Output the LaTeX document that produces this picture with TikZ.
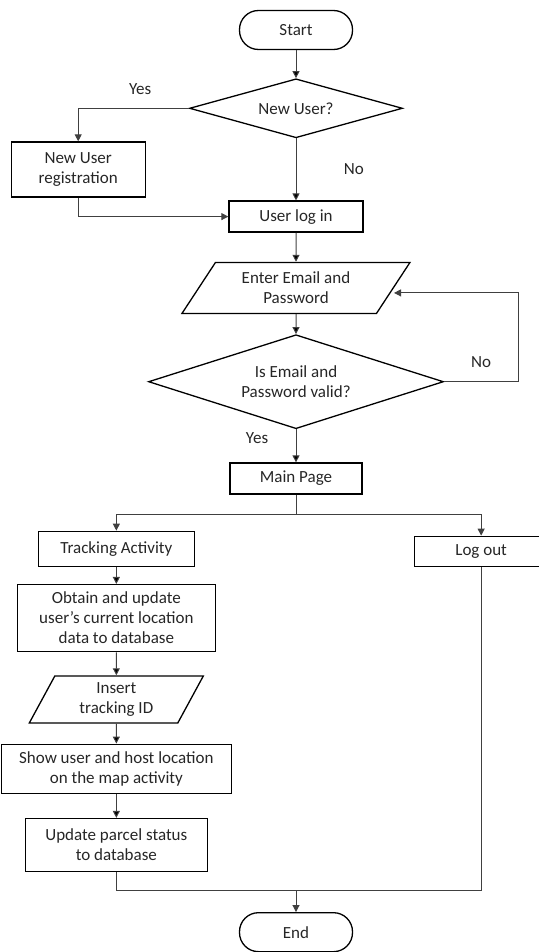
\documentclass[tikz,border=0pt]{standalone}
\usepackage{fontspec}
\setmainfont{Carlito}
\usetikzlibrary{arrows.meta, positioning, shapes.geometric}

\begin{document}
\begin{tikzpicture}[
            > = {Triangle[length=7pt,width=7pt]}, % arrow head style
            x = 1pt, y = 1pt,
            node distance = 25pt, % distance between nodes
            font = \fontsize{17}{20}\selectfont,
            line width = 1pt
        ]

        \tikzstyle{every node}=[text = black!85]
        \tikzstyle{process}=[
            draw = black,
            line width = 1.3pt,
            align = center,
            inner sep = 2pt
        ]
        \tikzstyle{terminal}=[
            process,
            rounded corners = 19pt,
            minimum width = 113pt,
            minimum height = 39pt
        ]
        \tikzstyle{decision}=[
            process,
            diamond,
            inner sep = 0pt
        ]
        \tikzstyle{io}=[
            process,
            trapezium,
            trapezium stretches body = true
        ]
        \tikzstyle{flow}=[draw = black!75, line width = 1pt]

        \useasboundingbox (0,0) rectangle (538,-952);

        \node[terminal] (start) at (296,-30) {Start};
        \node[decision, aspect = 3.6, minimum width = 213pt, minimum height = 59pt, below = 28pt of start] (newuser) {New User?};
        \node[process, minimum width = 134pt, minimum height = 55pt, below left = 33pt and 43pt of newuser.west] (register) {New User\\registration};
        \node[process, minimum width = 134pt, minimum height = 31pt, below = 62pt of newuser] (login) {User log in};
        \node[io, trapezium left angle = 47, trapezium right angle = 133, minimum width = 228pt, minimum height = 51pt, below = 29pt of login] (enter) {Enter Email and\\Password};
        \node[decision, aspect = 3.14, minimum width = 295pt, minimum height = 94pt, below = 20pt of enter] (valid) {Is Email and\\Password valid?};
        \node[process, minimum width = 132pt, minimum height = 31pt, below = 33pt of valid] (mainpage) {Main Page};
        \node[process, minimum width = 156pt, minimum height = 35pt, below left = 36pt and 101pt of mainpage.south] (tracking) {Tracking Activity};
        \node[process, minimum width = 133pt, minimum height = 30pt, below right = 41pt and 118pt of mainpage.south] (logout) {Log out};
        \node[process, minimum width = 198pt, minimum height = 67pt, below = 17pt of tracking] (obtain) {Obtain and update\\user's current location\\data to database};
        \node[io, trapezium left angle = 56, trapezium right angle = 124, minimum width = 174pt, minimum height = 47pt, below = 23pt of obtain] (trackid) {Insert\\tracking ID};
        \node[process, minimum width = 230pt, minimum height = 49pt, below = 20pt of trackid] (showmap) {Show user and host location\\on the map activity};
        \node[process, minimum width = 182pt, minimum height = 53pt, below = 24pt of showmap] (parcel) {Update parcel status\\to database};
        \node[terminal, yshift = -60pt] (end) at (mainpage |- parcel.south) {End};

        \coordinate (split) at ([yshift = -20pt]mainpage.south);
        \coordinate (merge) at ([yshift = 22pt]end.north);

        \path[flow, ->] (start) edge (newuser);
        \path[flow, ->] (newuser) -| node[pos = 0.22, above = 10pt] {Yes} (register);
        \path[flow, ->] (newuser) edge node[right = 44pt] {No} (login);
        \path[flow, ->] (register) |- (login);
        \path[flow, ->] (login) edge (enter);
        \path[flow, ->] (enter) edge (valid);
        \path[flow, ->] (valid.east) -- node[above = 10pt] {No} ++(74pt,0) |- ([yshift = -5pt]enter.east);
        \path[flow, ->] (valid) edge node[left = 24pt, pos = 0.25] {Yes} (mainpage);
        \path[flow] (mainpage) -- (split);
        \path[flow, ->] (split) -| (tracking);
        \path[flow, ->] (split) -| (logout);
        \path[flow, ->] (tracking) edge (obtain);
        \path[flow, ->] (obtain) edge (trackid);
        \path[flow, ->] (trackid) edge (showmap);
        \path[flow, ->] (showmap) edge (parcel);
        \path[flow] (parcel) |- (merge) -| (logout);
        \path[flow, ->] (merge) -- (end);
    \end{tikzpicture}
\end{document}
